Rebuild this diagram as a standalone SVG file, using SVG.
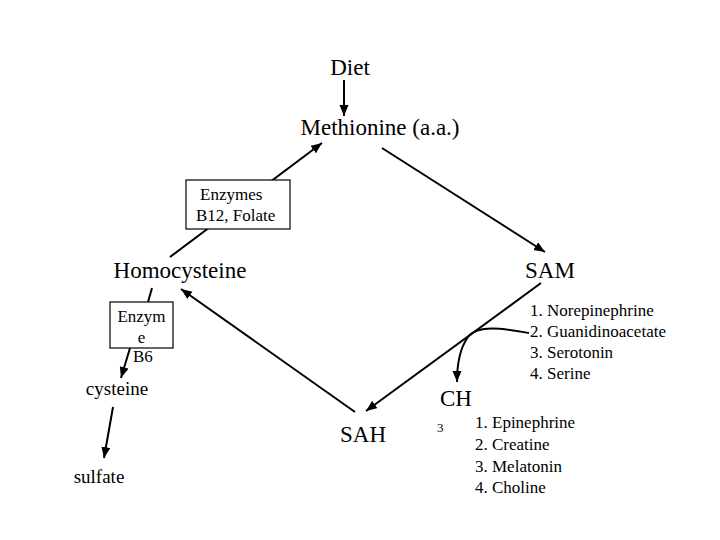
<svg xmlns="http://www.w3.org/2000/svg" width="720" height="540" viewBox="0 0 720 540">
<style>
text{font-family:"Liberation Serif","Times New Roman",serif;fill:#000}
.big{font-size:23px}
.mid{font-size:19px}
.sm{font-size:17px}
.ln{stroke:#000;stroke-width:2;fill:none}
.box{fill:#fff;stroke:#000;stroke-width:1.2}
</style>
<defs>
<marker id="ah" markerUnits="userSpaceOnUse" markerWidth="12" markerHeight="10" refX="11" refY="4.5" orient="auto">
<path d="M0,0 L11,4.5 L0,9 z" fill="#000"/>
</marker>
</defs>
<rect width="720" height="540" fill="#fff"/>
<g id="connectors">
<line class="ln" x1="344" y1="80" x2="344" y2="116" marker-end="url(#ah)"/>
<line class="ln" x1="170" y1="257" x2="322" y2="143" marker-end="url(#ah)"/>
<line class="ln" x1="382" y1="148" x2="545" y2="252" marker-end="url(#ah)"/>
<line class="ln" x1="541" y1="283" x2="366" y2="411" marker-end="url(#ah)"/>
<line class="ln" x1="355" y1="412" x2="181" y2="289" marker-end="url(#ah)"/>
<line class="ln" x1="152" y1="288" x2="148" y2="302"/>
<line class="ln" x1="130" y1="348" x2="121" y2="378" marker-end="url(#ah)"/>
<line class="ln" x1="113" y1="407" x2="104" y2="458" marker-end="url(#ah)"/>
<path class="ln" d="M529,333 C505,329 478,324 468,337 C460,348 457,365 457,382" marker-end="url(#ah)"/>
</g>
<g id="diet"><text class="big" x="350" y="75" text-anchor="middle">Diet</text></g>
<g id="methionine"><text class="big" x="380" y="135" text-anchor="middle">Methionine (a.a.)</text></g>
<g id="enzymes-b12">
<rect class="box" x="186" y="180" width="104" height="49"/>
<text class="sm" x="200" y="200">Enzymes</text>
<text class="sm" x="196" y="221">B12, Folate</text>
</g>
<g id="homocysteine"><text class="big" x="180" y="278" text-anchor="middle">Homocysteine</text></g>
<g id="sam"><text class="big" x="550" y="278" text-anchor="middle">SAM</text></g>
<g id="enzyme-b6">
<rect class="box" x="110" y="302" width="63" height="46"/>
<text class="sm" x="141.5" y="322" text-anchor="middle">Enzym</text>
<text class="sm" x="141.5" y="343" text-anchor="middle">e</text>
<text class="sm" x="133" y="362">B6</text>
</g>
<g id="cysteine"><text class="mid" x="117" y="395" text-anchor="middle">cysteine</text></g>
<g id="sulfate"><text class="mid" x="99" y="483" text-anchor="middle">sulfate</text></g>
<g id="sah"><text class="big" x="363" y="442" text-anchor="middle">SAH</text></g>
<g id="ch3">
<text class="big" x="456" y="406" text-anchor="middle">CH</text>
<text x="437" y="432" style="font-size:13px">3</text>
</g>
<g id="acceptors">
<text class="sm" x="530" y="316">1. Norepinephrine</text>
<text class="sm" x="530" y="337">2. Guanidinoacetate</text>
<text class="sm" x="530" y="358">3. Serotonin</text>
<text class="sm" x="530" y="379">4. Serine</text>
</g>
<g id="products">
<text class="sm" x="475" y="428">1. Epinephrine</text>
<text class="sm" x="475" y="450">2. Creatine</text>
<text class="sm" x="475" y="472">3. Melatonin</text>
<text class="sm" x="475" y="493">4. Choline</text>
</g>
</svg>
